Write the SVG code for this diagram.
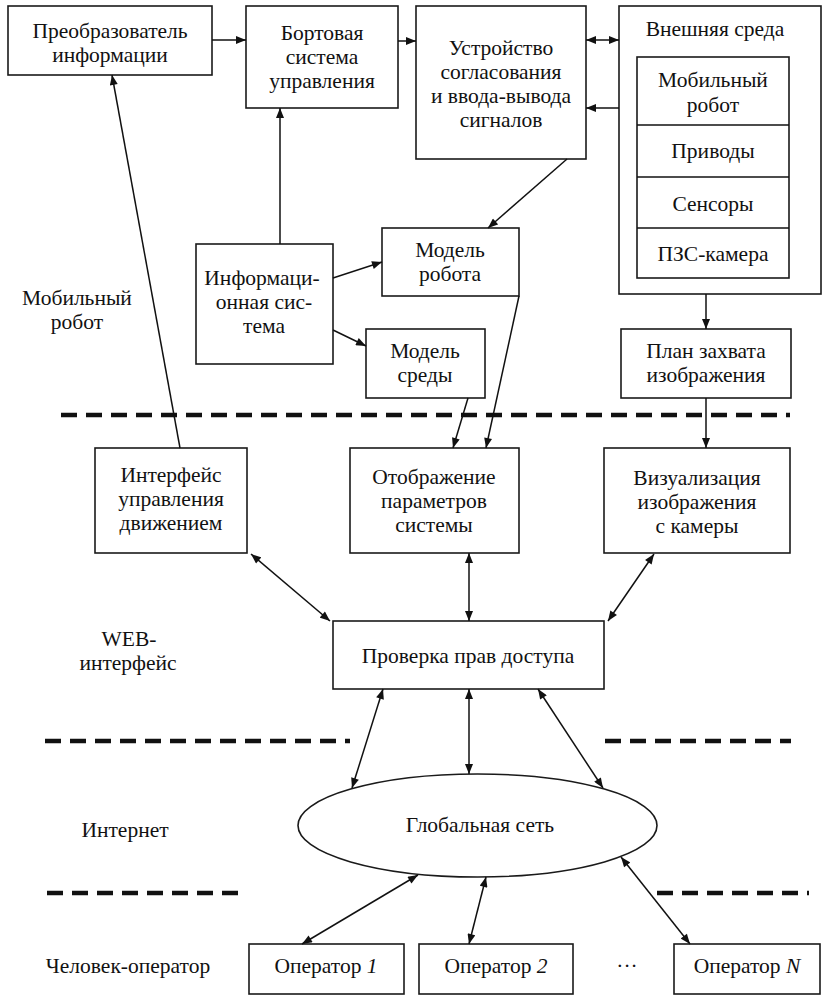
<svg xmlns="http://www.w3.org/2000/svg" width="824" height="996" viewBox="0 0 824 996">
<style>
.box{fill:#fff;stroke:#1a1a1a;stroke-width:1.6}
.t{font-family:"Liberation Serif","Times New Roman",serif;font-size:21.5px;fill:#111;text-anchor:middle}
.c{stroke:#111;stroke-width:1.5;fill:none}
.dash{stroke:#111;stroke-width:4.5;stroke-dasharray:16 9;fill:none}
</style>
<defs>
<marker id="ah" viewBox="0 0 10 8" refX="10" refY="4" markerWidth="11" markerHeight="8" markerUnits="userSpaceOnUse" orient="auto-start-reverse">
<path d="M0,0 L10,4 L0,8 z" fill="#111"/>
</marker>
</defs>
<rect width="824" height="996" fill="#fff"/>

<g id="separators">
<line class="dash" x1="61" y1="415" x2="790" y2="415"/>
<line class="dash" x1="45" y1="741" x2="350" y2="741"/>
<line class="dash" x1="605" y1="741" x2="791" y2="741"/>
<line class="dash" x1="47" y1="893" x2="242" y2="893"/>
<line class="dash" x1="657" y1="893" x2="809" y2="893"/>
</g>

<g id="layer-labels">
<text class="t" x="77" y="305">Мобильный</text>
<text class="t" x="77" y="329">робот</text>
<text class="t" x="129" y="646">WEB-</text>
<text class="t" x="128" y="670">интерфейс</text>
<text class="t" x="125" y="837">Интернет</text>
<text class="t" x="128" y="973">Человек-оператор</text>
<text class="t" x="627" y="973">···</text>
</g>

<g id="preobr">
<rect class="box" x="8" y="6" width="204" height="69"/>
<text class="t" x="110" y="38">Преобразователь</text>
<text class="t" x="110" y="62">информации</text>
</g>

<g id="bort">
<rect class="box" x="246" y="6" width="152" height="102"/>
<text class="t" x="322" y="40">Бортовая</text>
<text class="t" x="322" y="64">система</text>
<text class="t" x="322" y="88">управления</text>
</g>

<g id="ustr">
<rect class="box" x="416" y="6" width="170" height="153"/>
<text class="t" x="501" y="55">Устройство</text>
<text class="t" x="501" y="79">согласования</text>
<text class="t" x="501" y="103">и ввода-вывода</text>
<text class="t" x="501" y="127">сигналов</text>
</g>

<g id="vnesh">
<rect class="box" x="619" y="6" width="202" height="288"/>
<text class="t" x="715" y="36">Внешняя среда</text>
<rect class="box" x="637" y="57" width="152" height="221"/>
<line class="c" x1="637" y1="125" x2="789" y2="125"/>
<line class="c" x1="637" y1="177" x2="789" y2="177"/>
<line class="c" x1="637" y1="228" x2="789" y2="228"/>
<text class="t" x="713" y="87">Мобильный</text>
<text class="t" x="713" y="112">робот</text>
<text class="t" x="713" y="158">Приводы</text>
<text class="t" x="713" y="211">Сенсоры</text>
<text class="t" x="713" y="261">ПЗС-камера</text>
</g>

<g id="model-robota">
<rect class="box" x="382" y="228" width="137" height="68"/>
<text class="t" x="450" y="257">Модель</text>
<text class="t" x="450" y="281">робота</text>
</g>

<g id="inf">
<rect class="box" x="196" y="244" width="137" height="120"/>
<text class="t" x="262" y="285">Информаци-</text>
<text class="t" x="264" y="309">онная сис-</text>
<text class="t" x="264" y="333">тема</text>
</g>

<g id="model-sredy">
<rect class="box" x="366" y="329" width="119" height="69"/>
<text class="t" x="425" y="358">Модель</text>
<text class="t" x="425" y="382">среды</text>
</g>

<g id="plan">
<rect class="box" x="621" y="329" width="170" height="69"/>
<text class="t" x="706" y="358">План захвата</text>
<text class="t" x="706" y="382">изображения</text>
</g>

<g id="interf">
<rect class="box" x="95" y="448" width="152" height="105"/>
<text class="t" x="171" y="482">Интерфейс</text>
<text class="t" x="171" y="506">управления</text>
<text class="t" x="171" y="530">движением</text>
</g>

<g id="otobr">
<rect class="box" x="350" y="448" width="169" height="105"/>
<text class="t" x="434" y="484">Отображение</text>
<text class="t" x="434" y="508">параметров</text>
<text class="t" x="434" y="532">системы</text>
</g>

<g id="vizual">
<rect class="box" x="604" y="448" width="186" height="105"/>
<text class="t" x="697" y="485">Визуализация</text>
<text class="t" x="697" y="509">изображения</text>
<text class="t" x="697" y="533">с камеры</text>
</g>

<g id="prov">
<rect class="box" x="333" y="621" width="271" height="68"/>
<text class="t" x="468" y="663">Проверка прав доступа</text>
</g>

<g id="net">
<ellipse class="box" cx="477.5" cy="825.5" rx="179.5" ry="51.5"/>
<text class="t" x="480" y="832">Глобальная сеть</text>
</g>

<g id="op1">
<rect class="box" x="249" y="944" width="155" height="50"/>
<text class="t" x="326" y="973">Оператор <tspan font-style="italic">1</tspan></text>
</g>
<g id="op2">
<rect class="box" x="419" y="944" width="154" height="50"/>
<text class="t" x="496" y="973">Оператор <tspan font-style="italic">2</tspan></text>
</g>
<g id="opN">
<rect class="box" x="674" y="944" width="146" height="50"/>
<text class="t" x="747" y="973">Оператор <tspan font-style="italic">N</tspan></text>
</g>

<g id="connectors">
<line class="c" x1="212" y1="40" x2="246" y2="40" marker-end="url(#ah)"/>
<line class="c" x1="398" y1="41" x2="416" y2="41" marker-end="url(#ah)"/>
<line class="c" x1="586" y1="40" x2="619" y2="40" marker-start="url(#ah)" marker-end="url(#ah)"/>
<line class="c" x1="619" y1="108" x2="586" y2="108" marker-end="url(#ah)"/>
<line class="c" x1="567" y1="159" x2="488" y2="228" marker-end="url(#ah)"/>
<line class="c" x1="280" y1="244" x2="280" y2="108" marker-end="url(#ah)"/>
<line class="c" x1="333" y1="278" x2="382" y2="262" marker-end="url(#ah)"/>
<line class="c" x1="333" y1="330" x2="366" y2="346" marker-end="url(#ah)"/>
<line class="c" x1="706" y1="294" x2="706" y2="329" marker-end="url(#ah)"/>
<line class="c" x1="706" y1="398" x2="706" y2="448" marker-end="url(#ah)"/>
<line class="c" x1="468" y1="398" x2="453" y2="448" marker-end="url(#ah)"/>
<line class="c" x1="519" y1="296" x2="486" y2="448" marker-end="url(#ah)"/>
<line class="c" x1="180" y1="448" x2="112" y2="75" marker-end="url(#ah)"/>
<line class="c" x1="251" y1="554" x2="330" y2="621" marker-start="url(#ah)" marker-end="url(#ah)"/>
<line class="c" x1="469" y1="553" x2="469" y2="621" marker-start="url(#ah)" marker-end="url(#ah)"/>
<line class="c" x1="654" y1="554" x2="608" y2="621" marker-start="url(#ah)" marker-end="url(#ah)"/>
<line class="c" x1="383" y1="689" x2="352" y2="788" marker-start="url(#ah)" marker-end="url(#ah)"/>
<line class="c" x1="469" y1="689" x2="469" y2="774" marker-start="url(#ah)" marker-end="url(#ah)"/>
<line class="c" x1="538" y1="689" x2="603" y2="788" marker-start="url(#ah)" marker-end="url(#ah)"/>
<line class="c" x1="418" y1="875" x2="302" y2="944" marker-start="url(#ah)" marker-end="url(#ah)"/>
<line class="c" x1="486" y1="877" x2="469" y2="944" marker-start="url(#ah)" marker-end="url(#ah)"/>
<line class="c" x1="621" y1="857" x2="690" y2="944" marker-start="url(#ah)" marker-end="url(#ah)"/>
</g>
</svg>
